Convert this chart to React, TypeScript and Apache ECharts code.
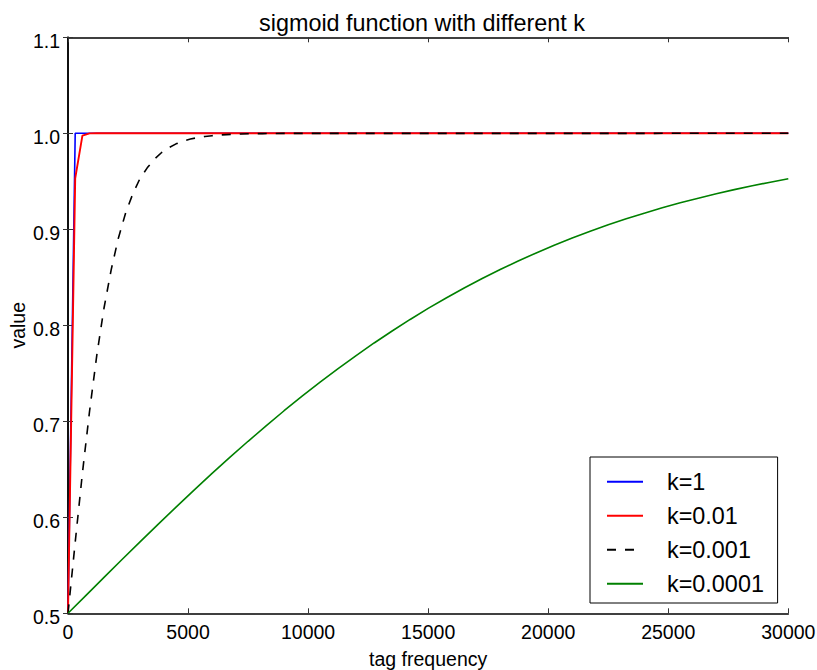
import React, { useEffect, useRef } from 'react';
import * as echarts from 'echarts';

const FONT = '"Liberation Sans", Arial, Helvetica, sans-serif';

const seriesNames = ['k=1', 'k=0.01', 'k=0.001', 'k=0.0001'];
const seriesColors = ['#0000ff', '#ff0000', '#000000', '#008000'];

const xTicks = [0, 5000, 10000, 15000, 20000, 25000, 30000];
const yTicks = [0.5, 0.6, 0.7, 0.8, 0.9, 1.0, 1.1];

// k = 1
const k1X = [0, 300, 30000];
const k1Y = [0.5, 1.0, 1.0];

// k = 0.01
const k01X = [0, 300, 600, 900, 1200, 30000];
const k01Y = [0.5, 0.953, 0.9975, 0.9999, 1.0, 1.0];

// k = 0.001
const k001X = [0, 300, 600, 900, 1200, 1500, 1800, 2100, 2400, 2700, 3000, 3300, 3600, 3900, 4200, 4500, 4800, 5100, 5400, 5700, 6000, 6300, 6600, 6900, 7200, 7500, 7800, 8100, 8400, 9000, 30000];
const k001Y = [0.5, 0.574, 0.646, 0.711, 0.769, 0.818, 0.858, 0.891, 0.917, 0.937, 0.953, 0.964, 0.973, 0.98, 0.985, 0.989, 0.992, 0.994, 0.9955, 0.9967, 0.9975, 0.9982, 0.9986, 0.999, 0.9993, 0.9995, 0.9996, 0.9997, 0.9998, 0.9999, 1.0];

// k = 0.0001
const k0001X = [0, 750, 1500, 2250, 3000, 3750, 4500, 5250, 6000, 6750, 7500, 8250, 9000, 9750, 10500, 11250, 12000, 12750, 13500, 14250, 15000, 15750, 16500, 17250, 18000, 18750, 19500, 20250, 21000, 21750, 22500, 23250, 24000, 24750, 25500, 26250, 27000, 27750, 28500, 29250, 30000];
const k0001Y = [0.5, 0.5187, 0.5374, 0.556, 0.5744, 0.5927, 0.6106, 0.6283, 0.6457, 0.6626, 0.6792, 0.6953, 0.711, 0.7261, 0.7408, 0.7549, 0.7685, 0.7816, 0.7941, 0.8061, 0.8176, 0.8285, 0.8389, 0.8488, 0.8582, 0.867, 0.8754, 0.8834, 0.8909, 0.898, 0.9047, 0.9109, 0.9168, 0.9224, 0.9276, 0.9324, 0.937, 0.9413, 0.9453, 0.9491, 0.9526];

const seriesX = [k1X, k01X, k001X, k0001X];
const seriesY = [k1Y, k01Y, k001Y, k0001Y];
const seriesWidths = [1.6, 1.9, 1.6, 1.6];

export default function App() {
  const ref = useRef<HTMLDivElement>(null);

  useEffect(() => {
    if (!ref.current) return;
    const chart = echarts.init(ref.current, undefined, { renderer: 'svg' });

    const axisLine = { show: true, lineStyle: { color: '#000', width: 1.5 } };
    const axisTick = { show: true, inside: true, length: 5, lineStyle: { color: '#333', width: 1 } };
    const xInterval = xTicks[1] - xTicks[0];
    const yInterval = 0.1;

    const series = seriesNames.map((name, i) => ({
      name,
      type: 'line',
      xAxisIndex: 0,
      yAxisIndex: 0,
      symbol: 'none',
      showSymbol: false,
      smooth: false,
      data: seriesX[i].map((x, j) => [x, seriesY[i][j]]),
      lineStyle: {
        color: seriesColors[i],
        width: seriesWidths[i],
        type: i === 2 ? [9, 9] : 'solid',
      },
      itemStyle: { color: seriesColors[i] },
      emphasis: { disabled: true },
    }));

    chart.setOption({
      animation: false,
      backgroundColor: '#fff',
      title: {
        text: 'sigmoid function with different k',
        left: 259,
        top: 11,
        padding: 0,
        textStyle: { fontSize: 23.4, fontWeight: 'normal', fontFamily: FONT, color: '#000' },
      },
      grid: {
        left: 68,
        right: 28.7,
        top: 37.3,
        bottom: 56.7,
        containLabel: false,
        outerBoundsMode: 'none',
      },
      legend: {
        data: seriesNames,
        orient: 'vertical',
        left: 590,
        top: 457,
        padding: [12.7, 13.7, 7.3, 16],
        itemGap: 10,
        itemWidth: 36,
        itemHeight: 14,
        borderColor: '#000',
        borderWidth: 1,
        backgroundColor: '#fff',
        selectedMode: false,
        itemStyle: { opacity: 0, borderWidth: 0 },
        textStyle: { fontSize: 23.4, fontFamily: FONT, color: '#000', lineHeight: 24, padding: [0, 0, 0, 19] },
      },
      xAxis: [
        {
          type: 'value',
          min: xTicks[0],
          max: xTicks[xTicks.length - 1],
          interval: xInterval,
          position: 'bottom',
          name: 'tag frequency',
          nameLocation: 'middle',
          nameGap: 36,
          nameMoveOverlap: false,
          nameTextStyle: { fontSize: 19.5, fontFamily: FONT, color: '#000' },
          axisLine,
          axisTick,
          splitLine: { show: false },
          axisLabel: {
            margin: 9,
            fontSize: 19.5,
            fontFamily: FONT,
            color: '#000',
            alignMinLabel: 'center',
            alignMaxLabel: 'center',
            hideOverlap: false,
            formatter: (v: number) => String(v),
          },
        },
        {
          type: 'value',
          min: xTicks[0],
          max: xTicks[xTicks.length - 1],
          interval: xInterval,
          position: 'top',
          axisLine,
          axisTick,
          splitLine: { show: false },
          axisLabel: { show: false },
        },
      ],
      yAxis: [
        {
          type: 'value',
          min: yTicks[0],
          max: yTicks[yTicks.length - 1],
          interval: yInterval,
          position: 'left',
          name: 'value',
          nameLocation: 'middle',
          nameGap: 40,
          nameRotate: 90,
          nameMoveOverlap: false,
          nameTextStyle: { fontSize: 19.5, fontFamily: FONT, color: '#000' },
          axisLine,
          axisTick,
          splitLine: { show: false },
          axisLabel: {
            margin: 8,
            fontSize: 19.5,
            fontFamily: FONT,
            color: '#000',
            verticalAlign: 'top',
            lineHeight: 8,
            verticalAlignMinLabel: 'top',
            verticalAlignMaxLabel: 'top',
            hideOverlap: false,
            formatter: (v: number) => v.toFixed(1),
          },
        },
        {
          type: 'value',
          min: yTicks[0],
          max: yTicks[yTicks.length - 1],
          interval: yInterval,
          position: 'right',
          axisLine,
          axisTick,
          splitLine: { show: false },
          axisLabel: { show: false },
        },
      ],
      series,
    });

    return () => chart.dispose();
  }, []);

  return (
    <div
      ref={ref}
      style={{ position: 'fixed', left: 0, top: 0, width: 817, height: 670, background: '#fff' }}
    />
  );
}
